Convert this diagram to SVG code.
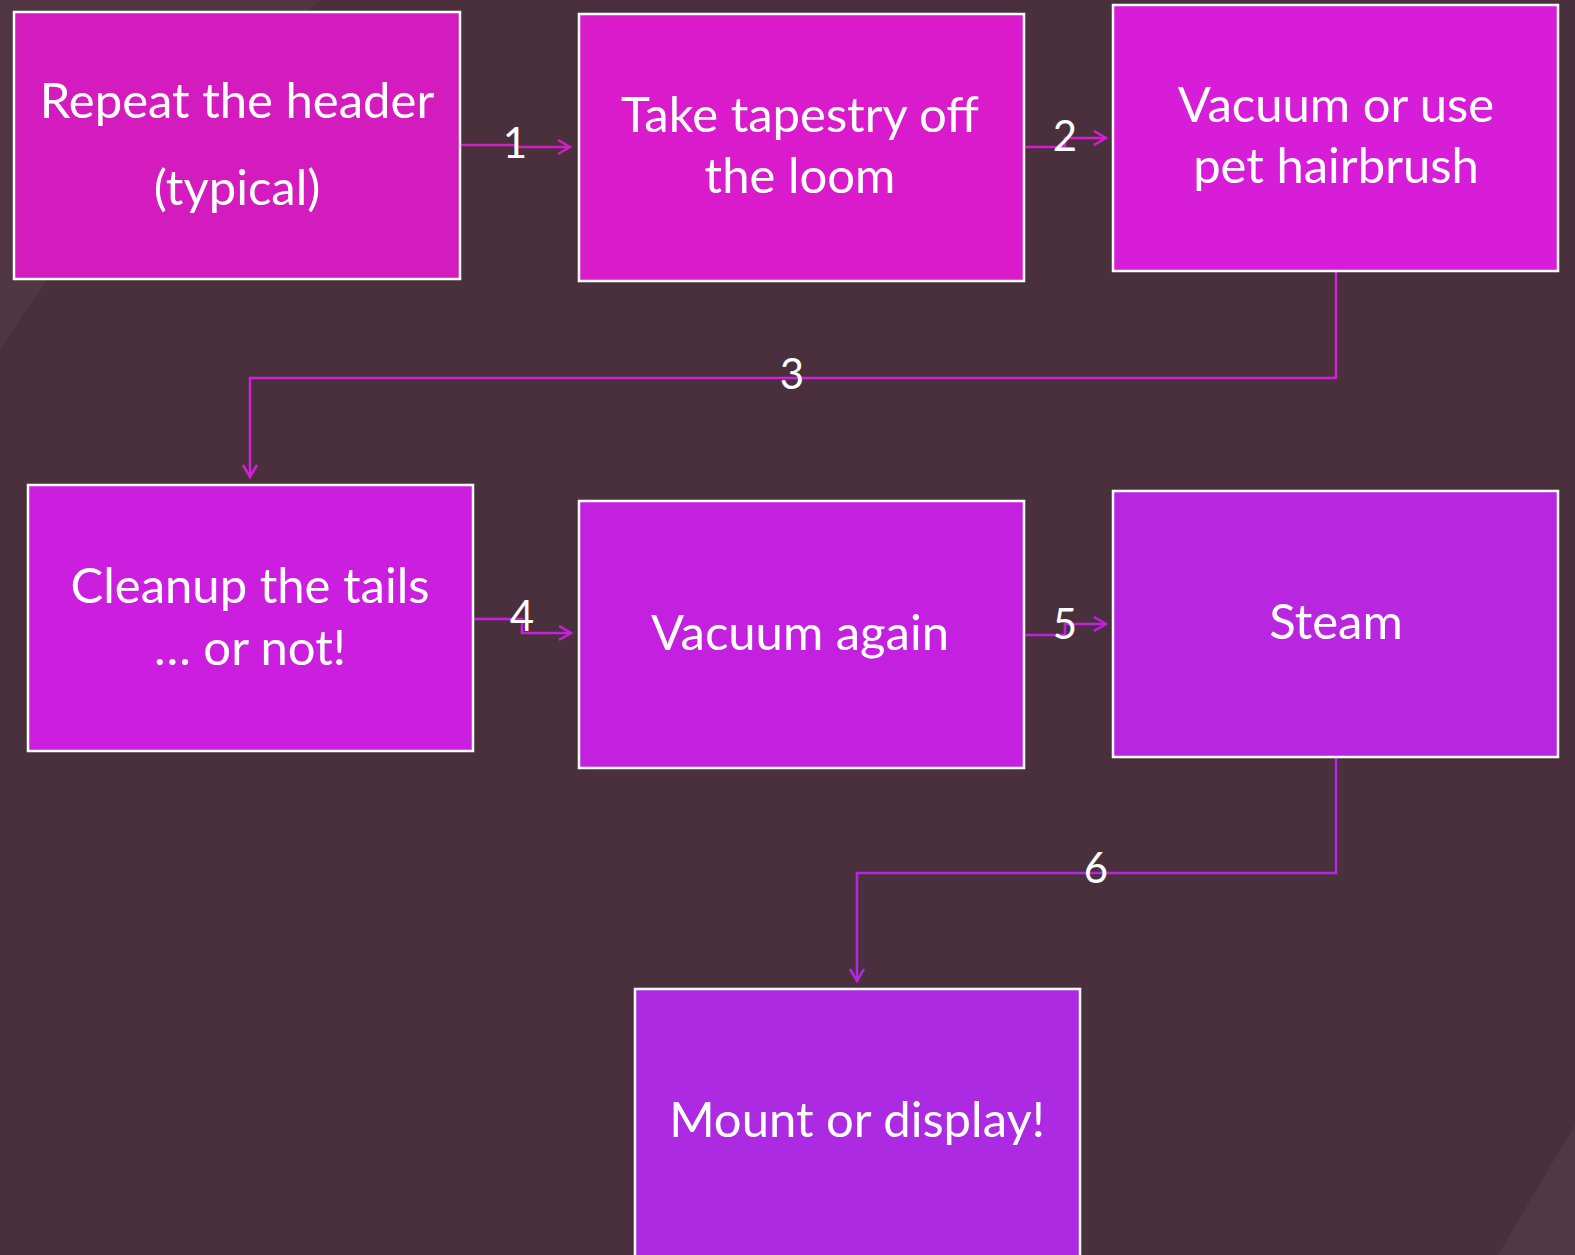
<svg xmlns="http://www.w3.org/2000/svg" width="1575" height="1255" viewBox="0 0 1575 1255">
<style>
.box{stroke:#ffffff;stroke-width:2.5}
.t{font-family:Lato,"Open Sans","Liberation Sans",sans-serif;font-size:49px;fill:#ffffff;text-anchor:middle}
.lbl{font-family:Lato,"Open Sans","Liberation Sans",sans-serif;font-size:42px;fill:#ffffff;text-anchor:middle}
.c{fill:none;stroke-width:2.5}
</style>
<defs>
<marker id="a1" markerUnits="userSpaceOnUse" markerWidth="16" markerHeight="18" refX="13" refY="8" orient="auto"><path d="M1,1 L13,8 L1,15" fill="none" stroke="#d31ec0" stroke-width="2.5"/></marker>
<marker id="a2" markerUnits="userSpaceOnUse" markerWidth="16" markerHeight="18" refX="13" refY="8" orient="auto"><path d="M1,1 L13,8 L1,15" fill="none" stroke="#d81dd0" stroke-width="2.5"/></marker>
<marker id="a3" markerUnits="userSpaceOnUse" markerWidth="16" markerHeight="18" refX="13" refY="8" orient="auto"><path d="M1,1 L13,8 L1,15" fill="none" stroke="#d51edb" stroke-width="2.5"/></marker>
<marker id="a4" markerUnits="userSpaceOnUse" markerWidth="16" markerHeight="18" refX="13" refY="8" orient="auto"><path d="M1,1 L13,8 L1,15" fill="none" stroke="#ca1fdf" stroke-width="2.5"/></marker>
<marker id="a5" markerUnits="userSpaceOnUse" markerWidth="16" markerHeight="18" refX="13" refY="8" orient="auto"><path d="M1,1 L13,8 L1,15" fill="none" stroke="#be22e0" stroke-width="2.5"/></marker>
<marker id="a6" markerUnits="userSpaceOnUse" markerWidth="16" markerHeight="18" refX="13" refY="8" orient="auto"><path d="M1,1 L13,8 L1,15" fill="none" stroke="#b228e0" stroke-width="2.5"/></marker>
</defs>
<rect x="0" y="0" width="1575" height="1255" fill="#4a303d"/>
<path d="M0,0 L320,0 Q120,160 0,350 Z" fill="#ffffff" fill-opacity="0.035"/>
<path d="M1575,1125 Q1530,1200 1498,1255 L1575,1255 Z" fill="#ffffff" fill-opacity="0.04"/>

<g id="connectors">
<g id="c1"><path class="c" stroke="#d31ec0" d="M461,145 H515 V147 H570" marker-end="url(#a1)"/><text class="lbl" x="515" y="158">1</text></g>
<g id="c2"><path class="c" stroke="#d81dd0" d="M1025,147 H1065 V138 H1106" marker-end="url(#a2)"/><text class="lbl" x="1065" y="151">2</text></g>
<g id="c3"><path class="c" stroke="#d51edb" d="M1336,272 V378 H250 V477" marker-end="url(#a3)"/><text class="lbl" x="792" y="389">3</text></g>
<g id="c4"><path class="c" stroke="#ca1fdf" d="M474,619 H522 V633 H571" marker-end="url(#a4)"/><text class="lbl" x="522" y="631">4</text></g>
<g id="c5"><path class="c" stroke="#be22e0" d="M1025,635 H1065 V624 H1106" marker-end="url(#a5)"/><text class="lbl" x="1065" y="639">5</text></g>
<g id="c6"><path class="c" stroke="#b228e0" d="M1336,758 V873 H857 V981" marker-end="url(#a6)"/><text class="lbl" x="1096" y="883">6</text></g>
</g>

<g id="n1"><rect class="box" x="14" y="12" width="446" height="267" fill="#d41bbd"/><text class="t" x="237" y="118">Repeat the header</text><text class="t" x="237" y="205">(typical)</text></g>
<g id="n2"><rect class="box" x="579" y="14" width="445" height="267" fill="#d91bcc"/><text class="t" x="800" y="132">Take tapestry off</text><text class="t" x="800" y="193">the loom</text></g>
<g id="n3"><rect class="box" x="1113" y="5" width="445" height="266" fill="#d81dd9"/><text class="t" x="1336" y="122">Vacuum or use</text><text class="t" x="1336" y="183">pet hairbrush</text></g>
<g id="n4"><rect class="box" x="28" y="485" width="445" height="266" fill="#cc1edf"/><text class="t" x="250" y="603">Cleanup the tails</text><text class="t" x="250" y="665">… or not!</text></g>
<g id="n5"><rect class="box" x="579" y="501" width="445" height="267" fill="#c320e0"/><text class="t" x="800" y="650">Vacuum again</text></g>
<g id="n6"><rect class="box" x="1113" y="491" width="445" height="266" fill="#b826e0"/><text class="t" x="1336" y="639">Steam</text></g>
<g id="n7"><rect class="box" x="635" y="989" width="445" height="270" fill="#ac2ae2"/><text class="t" x="857" y="1137">Mount or display!</text></g>
</svg>
